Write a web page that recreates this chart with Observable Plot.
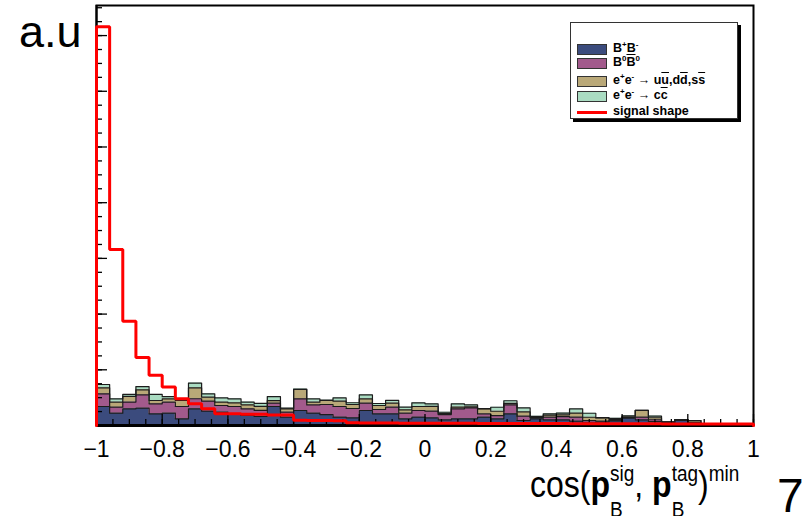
<!DOCTYPE html>
<html><head><meta charset="utf-8">
<script src="https://cdn.jsdelivr.net/npm/d3@7"></script>
<script src="https://cdn.jsdelivr.net/npm/@observablehq/plot@0.6"></script>
<style>
  body{margin:0;background:#fff;font-family:"Liberation Sans",Arial,sans-serif;}
  #wrap{position:relative;width:806px;height:516px;overflow:hidden;}
  .abs{position:absolute;white-space:nowrap;color:#000;}
  #au{left:19px;top:9px;font-size:45px;line-height:45px;}
  #pg{left:777px;top:472px;font-size:48px;line-height:48px;}
  #xt{left:530px;top:470px;font-size:32px;line-height:32px;transform:scaleY(1.15);transform-origin:0 27px;}
  #xt b{font-weight:bold;}
  .ss{display:inline-grid;}
  .ss>span{grid-area:1/1;font-size:19px;line-height:19px;}
  .ss .up{transform:translateY(-14px);}
  .ss .dn{transform:translateY(17px);}
  #legend{position:absolute;left:570px;top:22px;width:166px;height:95px;border:1px solid #333;box-shadow:3px 3px 0 #000;background:#fff;font-weight:bold;font-size:12.5px;}
  .row{position:absolute;left:6px;height:11px;}
  .sw{position:absolute;left:0;top:0;width:28px;height:9px;border:1px solid #333;}
  .ln{position:absolute;left:0;top:4px;width:30px;height:3px;background:#ff0000;}
  .lb{position:absolute;left:36px;top:-3px;line-height:14px;}
  .lb sup{font-size:8px;vertical-align:5px;line-height:0;}
  .lb sub{font-size:8px;vertical-align:-3px;line-height:0;}
  .ov{text-decoration:overline;}
</style>
</head><body>
<div id="wrap"></div>
<script>
// ---- data (a.u.) ----
const binLow = -1, binHigh = 1, nBins = 50;
const seriesNames = ["B+B-", "B0B0bar", "uds", "cc"];
const seriesColors = ["#3b4b7d", "#a25a8c", "#b9a878", "#aadcc2"];
const bPlusBMinus = [0.341,0.221,0.300,0.311,0.210,0.221,0.120,0.300,0.257,0.239,0.210,0.180,0.162,0.341,0.149,0.269,0.221,0.197,0.149,0.138,0.269,0.210,0.210,0.120,0.149,0.138,0.102,0.120,0.120,0.149,0.120,0.210,0.090,0.120,0.102,0.102,0.077,0.048,0.059,0.084,0.131,0.102,0.072,0.059,0.090,0.048,0.036,0.036,0.027,0.018];
const bZeroBZeroBar = [0.228,0.108,0.120,0.239,0.180,0.197,0.221,0.180,0.180,0.120,0.131,0.120,0.108,0.059,0.090,0.210,0.149,0.180,0.192,0.167,0.131,0.077,0.120,0.102,0.120,0.120,0.095,0.180,0.197,0.059,0.059,0.162,0.077,0.018,0.048,0.059,0.072,0.041,0.018,0.013,0.013,0.048,0.031,0,0.009,0,0,0,0,0];
const eeToUds = [0.108,0.090,0.102,0.090,0.059,0.059,0.108,0.197,0.072,0.059,0.066,0.072,0.072,0.048,0.059,0.167,0.048,0.072,0.095,0.072,0.077,0.072,0.072,0.059,0.072,0.084,0.018,0.031,0.018,0.090,0.077,0.027,0.077,0.009,0.036,0.031,0.072,0.059,0.059,0.013,0.013,0.120,0.036,0,0.009,0.041,0,0,0,0];
const eeToCc = [0.059,0.059,0.036,0.059,0.108,0.041,0.031,0.084,0.059,0.077,0.072,0.048,0.054,0.072,0.013,0.009,0.059,0.005,0.059,0.031,0.072,0.036,0.048,0.048,0.066,0.048,0.023,0.059,0.036,0.005,0.072,0.045,0.072,0.018,0.023,0.031,0.077,0.072,0.005,0.018,0.018,0,0.031,0,0,0,0,0,0,0];
const signalShape = [7.16,3.16,1.87,1.22,0.90,0.69,0.48,0.39,0.30,0.21,0.21,0.20,0.20,0.19,0.19,0.093,0.090,0.090,0.086,0.048,0.045,0.044,0.043,0.042,0.042,0.041,0.040,0.040,0.039,0.038,0.037,0.037,0.036,0.035,0.035,0.034,0.033,0.033,0.032,0.031,0.031,0.030,0.030,0.029,0.028,0.028,0.027,0.027,0.026,0.025];
const xTickValues = [-1,-0.8,-0.6,-0.4,-0.2,0,0.2,0.4,0.6,0.8,1];
const xTickLabels = ["\u22121","\u22120.8","\u22120.6","\u22120.4","\u22120.2","0","0.2","0.4","0.6","0.8","1"];
const yMajorTicks = [0,1,2,3,4,5,6,7];
const yMax = 7.54;

// ---- derived ----
const edges = d3.range(nBins + 1).map(i => binLow + (binHigh - binLow) * i / nBins);
const xMinorTicks = d3.range(0, 41).map(i => binLow + i * 0.05);
const yMinorTicks = d3.range(0, 31).map(i => i * 0.25);
const layers = [bPlusBMinus, bZeroBZeroBar, eeToUds, eeToCc];
const cum = [];
let base = new Array(nBins).fill(0);
layers.forEach(v => { const top = base.map((b, i) => b + v[i]); cum.push({base, top}); base = top; });

function areaPts(c) {
  return edges.map((x, i) => { const j = Math.min(i, nBins - 1); return {x, y1: c.base[j], y2: c.top[j]}; });
}
function outlinePts(vals) {
  const pts = [{x: binLow, y: 0}];
  edges.forEach((x, i) => { const j = Math.min(i, nBins - 1); pts.push({x, y: vals[j]}); });
  pts.push({x: binHigh, y: 0});
  return pts;
}
const frameW = 657, frameH = 420;

const chart = Plot.plot({
  width: 806, height: 516,
  marginLeft: 96, marginRight: 53, marginTop: 5, marginBottom: 91,
  style: {background: "#fff", color: "#000", fontFamily: "'Liberation Sans', Arial, sans-serif"},
  x: {domain: [binLow, binHigh], axis: null, label: null},
  y: {domain: [0, yMax], axis: null, label: null},
  marks: [
    ...cum.map((c, k) => Plot.areaY(areaPts(c), {x: "x", y1: "y1", y2: "y2", curve: "step-after", fill: seriesColors[k]})),
    ...cum.map(c => Plot.line(outlinePts(c.top), {x: "x", y: "y", curve: "step-after", stroke: "#1c1c1c", strokeWidth: 1.2})),
    Plot.tickX(xMinorTicks, {x: d => d, insetTop: frameH - 6, stroke: "#000", strokeWidth: 1.3}),
    Plot.tickX(xTickValues, {x: d => d, insetTop: frameH - 11, stroke: "#000", strokeWidth: 1.3}),
    Plot.tickY(yMinorTicks.filter(v => v <= yMax), {y: d => d, insetRight: frameW - 6, stroke: "#000", strokeWidth: 1.3}),
    Plot.tickY(yMajorTicks, {y: d => d, insetRight: frameW - 11, stroke: "#000", strokeWidth: 1.3}),
    Plot.frame({stroke: "#000", strokeWidth: 2}),
    Plot.ruleY([0], {stroke: "#000", strokeWidth: 3}),
    Plot.ruleX([binLow], {stroke: "#000", strokeWidth: 2}),
    Plot.line(outlinePts(signalShape), {x: "x", y: "y", curve: "step-after", stroke: "#ff0000", strokeWidth: 3, strokeLinejoin: "miter"}),
    Plot.axisX({ticks: xTickValues, tickSize: 0, tickPadding: 15, fontSize: 23, label: null,
      tickFormat: d => xTickLabels[xTickValues.indexOf(d)]})
  ]
});
const wrap = document.getElementById("wrap");
wrap.appendChild(chart);

function addDiv(id, html, cls) { const d = document.createElement("div"); d.id = id; d.className = cls || "abs"; d.innerHTML = html; wrap.appendChild(d); return d; }
addDiv("au", "a.u");
addDiv("pg", "7");
addDiv("xt", 'cos(<b>p</b><span class="ss"><span class="up">sig</span><span class="dn">B</span></span>, <b>p</b><span class="ss"><span class="up">tag</span><span class="dn">B</span></span>)<span class="ss"><span class="up">min</span></span>');

const legendLabels = [
  "B<sup>+</sup>B<sup>-</sup>",
  "B<sup>0</sup><span class=\"ov\">B</span><sup>0</sup>",
  "e<sup>+</sup>e<sup>-</sup> \u2192 u<span class=\"ov\">u</span>,d<span class=\"ov\">d</span>,s<span class=\"ov\">s</span>",
  "e<sup>+</sup>e<sup>-</sup> \u2192 c<span class=\"ov\">c</span>",
  "signal shape"
];
const legendRowTops = [21, 35, 53, 68, 84];
const leg = addDiv("legend", "", "");
legendLabels.forEach((lab, i) => {
  const r = document.createElement("div");
  r.className = "row"; r.style.top = legendRowTops[i] + "px";
  r.innerHTML = (i < 4 ? `<div class="sw" style="background:${seriesColors[i]}"></div>` : `<div class="ln"></div>`) + `<div class="lb">${lab}</div>`;
  leg.appendChild(r);
});
</script>
</body></html>
